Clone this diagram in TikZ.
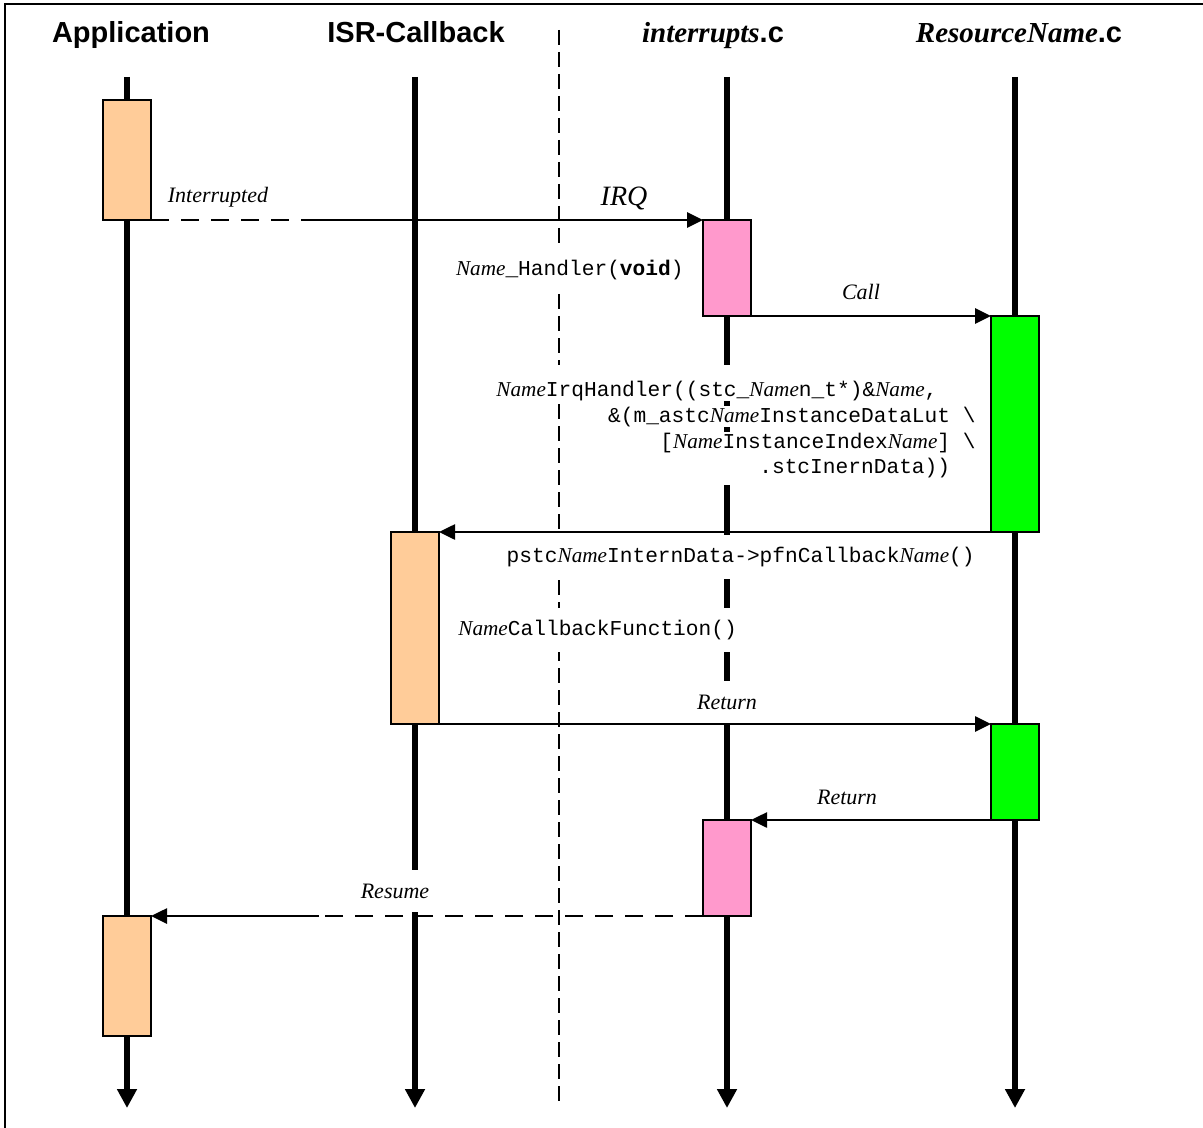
\documentclass[tikz,border=0pt]{standalone}
\usepackage{fontspec}
\setmainfont{Liberation Serif}
\setsansfont{Liberation Sans}
\setmonofont{Liberation Mono}
\usepackage{tikz}
\usetikzlibrary{arrows.meta,positioning,calc}

\definecolor{appcol}{HTML}{FFCC99}
\definecolor{irqcol}{HTML}{FF99CC}
\definecolor{rescol}{HTML}{00FF00}
\newcommand{\nm}{{\rmfamily\itshape Name}}

\tikzset{
    title/.style={font=\sffamily\bfseries\fontsize{14.5}{17}\selectfont,anchor=base},
    lifeline/.style={line width=3pt,-{Triangle[length=9.5pt,width=9.5pt]}},
    divider/.style={line width=0.75pt,dash pattern=on 7.5pt off 3.5pt},
    actbox/.style={draw,line width=1pt,fill=#1,minimum width=24pt,inner sep=0pt,outer sep=0pt},
    msg/.style={line width=1.3pt},
    msgarrow/.style={msg,-{Triangle[length=8pt,width=7.5pt]}},
    msgdash/.style={msg,dash pattern=on 9pt off 6pt},
    lbl/.style={font=\itshape\fontsize{11}{13}\selectfont,fill=white,inner xsep=1pt,inner ysep=7pt},
    code/.style={font=\ttfamily\fontsize{10.6}{13}\selectfont,fill=white,inner xsep=1pt,inner ysep=6pt},
    codeline/.style={code,inner ysep=0.5pt,anchor=base east}
}

\begin{document}
\begin{tikzpicture}[x=0.5pt,y=-0.5pt]
    \useasboundingbox (0,0) rectangle (1203,1128);
    % frame, open on the right and at the bottom
    \draw[line width=1pt] (5,1128) -- (5,4) -- (1203,4);

    % titles
    \node[title] (appT) at (131,43) {Application};
    \node[title] (isrT) at (416,43) {ISR-Callback};
    \node[title] (irqT) at (713,43) {{\rmfamily\itshape interrupts}.c};
    \node[title] (resT) at (1019,43) {{\rmfamily\itshape ResourceName}.c};

    % lifelines and the divider
    \foreach \x/\n in {127/app,415/isr,727/irq,1015/res}{
        \coordinate (\n top) at (\x,77);
        \coordinate (\n bot) at (\x,1108);
        \draw[lifeline] (\n top) -- (\n bot);
    }
    \coordinate (divtop) at (559,30);
    \coordinate (divbot) at (559,1107);
    \draw[divider] (divtop) -- (divbot);

    % activation boxes
    \node[actbox=appcol,minimum height=60pt] (appA) at (127,160) {};
    \node[actbox=irqcol,minimum height=48pt] (irqA) at (727,268) {};
    \node[actbox=rescol,minimum height=108pt] (resA) at (1015,424) {};
    \node[actbox=appcol,minimum height=96pt] (isrA) at (415,628) {};
    \node[actbox=rescol,minimum height=48pt] (resB) at (1015,772) {};
    \node[actbox=irqcol,minimum height=48pt] (irqB) at (727,868) {};
    \node[actbox=appcol,minimum height=60pt] (appB) at (127,976) {};

    % texts
    \node[lbl] (intL) at (218,197) {Interrupted};
    \node[lbl,font=\itshape\fontsize{14}{16}\selectfont] (irqL) at (624,199) {IRQ};
    \node[code,anchor=east] (hdlL) at (686,270) {\nm\_Handler(\textbf{void})};
    \node[lbl] (callL) at (861,292) {Call};
    \node[codeline] (irq1) at (978,396) {\rule{0pt}{15pt}\nm IrqHandler((stc\_\nm n\_t*)\&\nm,\hphantom{xxx}};
    \node[codeline] (irq2) at (978,422) {\&(m\_astc\nm InstanceDataLut \textbackslash};
    \node[codeline] (irq3) at (978,448) {\rule[-18pt]{0pt}{19pt}[\nm InstanceIndex\nm] \textbackslash};
    \node[codeline] (irq4) at (978,473) {.stcInernData))\hphantom{xx}};
    \node[code,anchor=east] (cbL) at (977,557) {pstc\nm InternData->pfnCallback\nm()};
    \node[code,anchor=west] (fnL) at (456,630) {\nm CallbackFunction()};
    \node[lbl] (ret1L) at (727,702) {Return};
    \node[lbl] (ret2L) at (847,797) {Return};
    \node[lbl] (resL) at (395,891) {Resume};

    % messages
    \coordinate (brk1) at (319,220);
    \coordinate (brk2) at (319,916);
    \draw[msgdash] (appA.south east) -- (brk1);
    \draw[msgarrow] (brk1) -- (irqA.north west);
    \draw[msgarrow] (irqA.south east) -- (resA.north west);
    \draw[msgarrow] (resA.south west) -- (isrA.north east);
    \draw[msgarrow] (isrA.south east) -- (resB.north west);
    \draw[msgarrow] (resB.south west) -- (irqB.north east);
    \draw[msgdash] (irqB.south west) -- (brk2);
    \draw[msgarrow] (brk2) -- (appB.north east);
\end{tikzpicture}
\end{document}
